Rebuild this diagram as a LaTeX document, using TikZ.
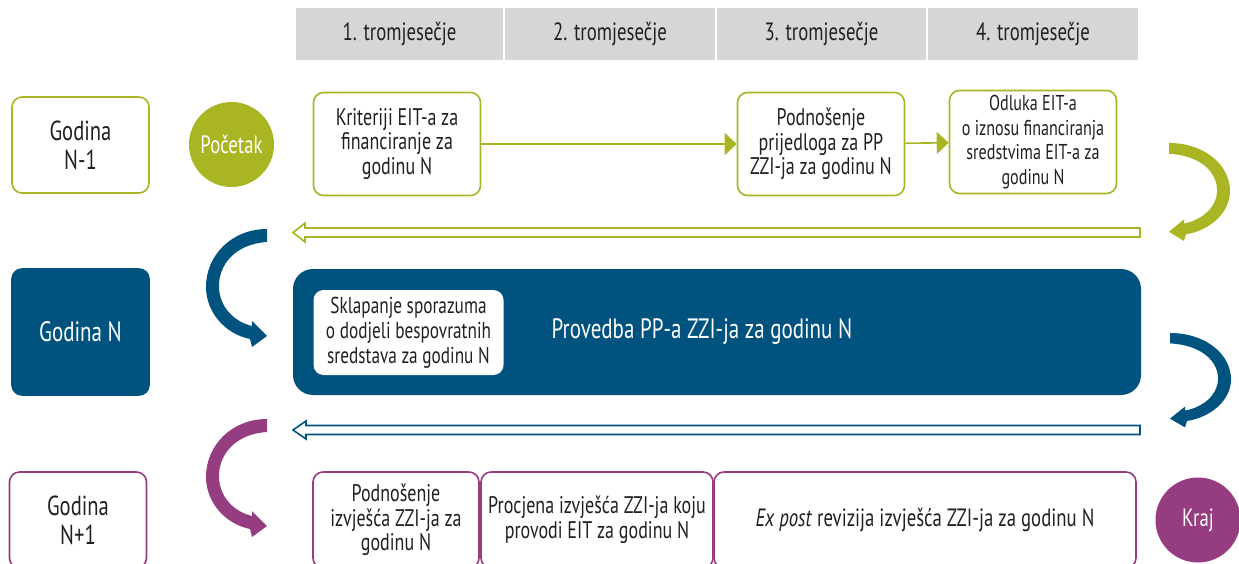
\documentclass[tikz,border=0pt]{standalone}
\usepackage{fontspec}
\setmainfont[FakeStretch=0.75]{PT Sans}
\usetikzlibrary{arrows.meta}
\definecolor{cgreen}{HTML}{A9B523}
\definecolor{cblue}{HTML}{00527F}
\definecolor{cpurple}{HTML}{963C80}
\definecolor{cgray}{HTML}{D5D6D8}
\definecolor{ctext}{HTML}{231F20}
\tikzset{
  hdr/.style={fill=cgray, minimum height=52pt, inner sep=0pt, text=ctext, font=\fontsize{25}{28}\selectfont},
  box/.style={draw, line width=1.6pt, rounded corners=10pt, align=center, text=ctext, inner sep=0pt, fill=white, font=\fontsize{24}{24.5}\selectfont},
  yearbox/.style={box, minimum width=137pt, font=\fontsize{27.5}{29}\selectfont},
  disc/.style={circle, minimum size=85pt, inner sep=0pt, text=white, font=\fontsize{25}{27}\selectfont},
  gline/.style={draw=cgreen, line width=1.6pt, -{Triangle[length=12pt,width=22pt]}},
  hollow/.style={line width=1.6pt, fill=white},
  bendarrow/.pic={
    \fill (0,0) -- (0,13) .. controls (-32,15) and (-49,36) .. (-48,59)
      .. controls (-47,79) and (-32,93) .. (-15,97) -- (-15,92) -- (0,107) -- (-15,118)
      -- (-17,110) .. controls (-42,105) and (-61,83) .. (-61,58)
      .. controls (-61,26) and (-35,0) .. (0,0) -- cycle;
  }
}
\begin{document}
\begin{tikzpicture}[x=1pt,y=-1pt]
\useasboundingbox (0,0) rectangle (1239,564);
% header
\node[hdr, minimum width=207pt] (q1) at (399.5,34) {1. tromjesečje};
\node[hdr, minimum width=210pt] (q2) at (610,34) {2. tromjesečje};
\node[hdr, minimum width=209pt] (q3) at (821.5,34) {3. tromjesečje};
\node[hdr, minimum width=210pt] (q4) at (1033,34) {4. tromjesečje};

% row 1
\node[yearbox, draw=cgreen, minimum height=96pt] (ya) at (80.5,145) {Godina\\N-1};
\node[disc, fill=cgreen] (start) at (231.5,144.5) {Početak};
\node[box, draw=cgreen, minimum width=167pt, minimum height=103pt] (k1) at (397,144) {Kriteriji EIT-a za\\financiranje za\\godinu N};
\node[box, draw=cgreen, minimum width=167pt, minimum height=103pt] (k2) at (821,144) {Podnošenje\\prijedloga za PP\\ZZI-ja za godinu N};
\node[box, draw=cgreen, minimum width=167pt, minimum height=103pt, font=\fontsize{21.5}{24.5}\selectfont] (k3) at (1033,142) {Odluka EIT-a\\o iznosu financiranja\\sredstvima EIT-a za\\godinu N};
\draw[gline] (k1) -- (k2);
\draw[gline] (k2) -- (k3);
\pic[cgreen, xscale=-1, yscale=0.83] at (1169,143) {bendarrow};
\draw[hollow, draw=cgreen] (1140,228) -- (305,228) -- (305,223) -- (293,232.5) -- (305,242) -- (305,237) -- (1140,237) -- cycle;

% row 2
\node[yearbox, draw=cblue, fill=cblue, text=white, minimum height=126pt, font=\fontsize{28}{30}\selectfont] (yb) at (80.5,332) {Godina N};
\pic[cblue] at (267,229) {bendarrow};
\node[fill=cblue, rounded corners=20pt, minimum width=848pt, minimum height=126pt, inner sep=0pt] (impl) at (717,332) {};
\node[text=white, font=\fontsize{28}{30}\selectfont] (impltext) at (702,332) {Provedba PP-a ZZI-ja za godinu N};
\node[box, draw=none, minimum width=190pt, minimum height=85pt, font=\fontsize{23}{25}\selectfont] (sk) at (408.5,332.5) {Sklapanje sporazuma\\o dodjeli bespovratnih\\sredstava za godinu N};
\pic[cblue, xscale=-1, yscale=0.8] at (1170,333) {bendarrow};
\draw[hollow, draw=cblue] (1140,425.5) -- (306,425.5) -- (306,421) -- (293,430) -- (306,439) -- (306,434.5) -- (1140,434.5) -- cycle;

% row 3
\node[yearbox, draw=cpurple, minimum height=96pt] (yc) at (78,520) {Godina\\N+1};
\pic[cpurple] at (267,419) {bendarrow};
\node[box, draw=cpurple, minimum width=166pt, minimum height=96pt] (p1) at (396,520) {Podnošenje\\izvješća ZZI-ja za\\godinu N};
\node[box, draw=cpurple, minimum width=232pt, minimum height=96pt] (p2) at (597,520) {Procjena izvješća ZZI-ja koju\\provodi EIT za godinu N};
\node[box, draw=cpurple, minimum width=422pt, minimum height=96pt, font=\fontsize{25}{27}\selectfont] (p3) at (925,520) {\textit{Ex post} revizija izvješća ZZI-ja za godinu N};
\node[disc, fill=cpurple] (kraj) at (1198,520) {Kraj};
\end{tikzpicture}
\end{document}
